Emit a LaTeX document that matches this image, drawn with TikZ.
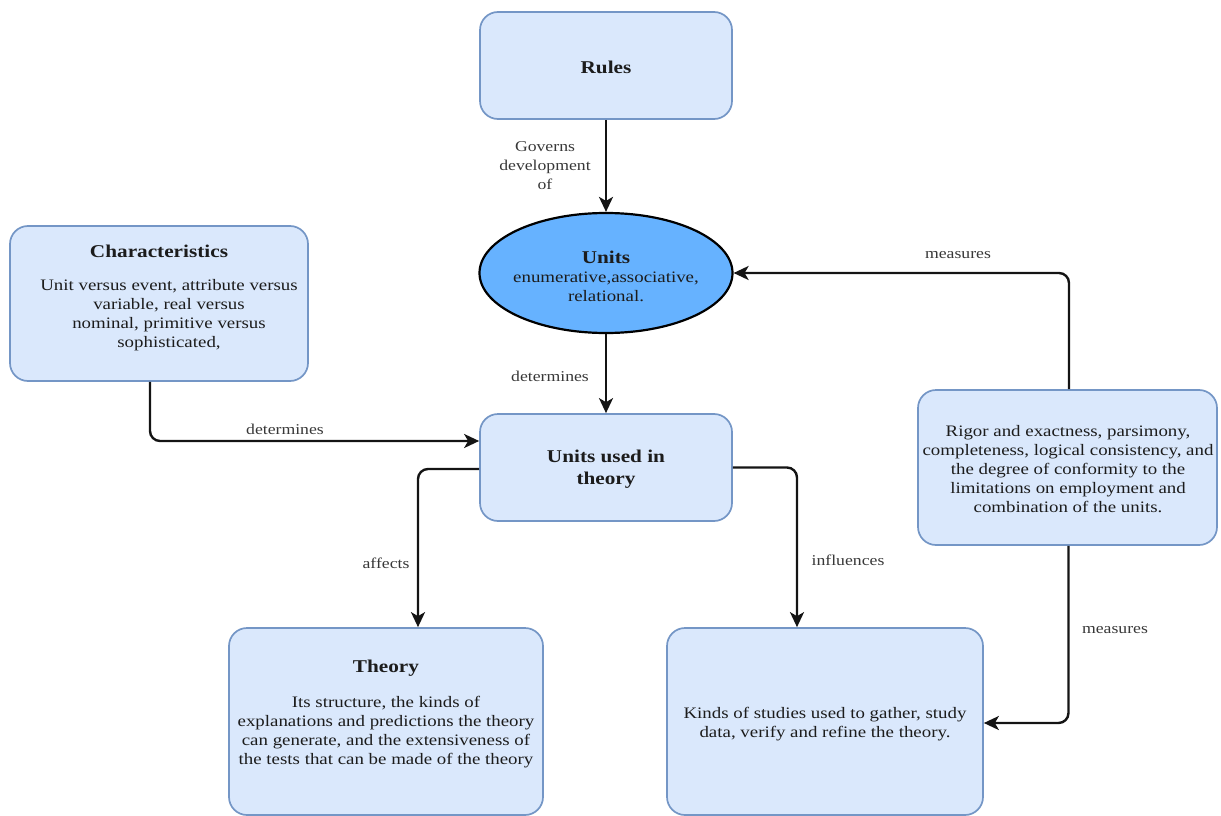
\documentclass[tikz,border=0pt]{standalone}
\usepackage{fontspec}
\setmainfont{Liberation Serif}[FakeStretch=1.18]
\usetikzlibrary{arrows.meta,shapes.geometric,calc}
\definecolor{boxfill}{HTML}{DAE8FC}
\definecolor{boxline}{HTML}{7496C6}
\definecolor{ellfill}{HTML}{66B2FF}
\definecolor{txt}{HTML}{1C1C1C}
\definecolor{lbltxt}{HTML}{383838}

\begin{document}
\begin{tikzpicture}[x=1pt,y=-1pt,
  box/.style={draw=boxline, fill=boxfill, line width=1.7pt, rounded corners=18pt, inner sep=0pt},
  ellbox/.style={ellipse, draw=black, fill=ellfill, line width=2.2pt, inner sep=0pt},
  titletext/.style={font=\fontsize{18}{22}\selectfont\bfseries, text=txt, align=center, inner sep=0pt},
  bodytext/.style={font=\fontsize{16}{19}\selectfont, text=txt, align=center, inner sep=0pt},
  lbl/.style={font=\fontsize{15}{19}\selectfont, text=lbltxt, align=center, inner sep=0pt},
  conn/.style={draw=black!92, line width=2.4pt, rounded corners=10pt,
    -{Stealth[length=15pt,width=14pt,inset=4pt]}},
]
\useasboundingbox (0,0) rectangle (1221,816);

% boxes
\node[box, minimum width=252pt, minimum height=107pt] (rules) at (606,65.5) {};
\node[ellbox, minimum width=253pt, minimum height=120pt] (ell) at (606,273) {};
\node[box, minimum width=298pt, minimum height=155pt] (ch) at (159,303.5) {};
\node[box, minimum width=252pt, minimum height=107pt] (uu) at (606,467.5) {};
\node[box, minimum width=299pt, minimum height=155pt] (rb) at (1067.5,467.5) {};
\node[box, minimum width=314pt, minimum height=187pt] (th) at (386,721.5) {};
\node[box, minimum width=316pt, minimum height=187pt] (kd) at (825,721.5) {};

% texts
\node[titletext] (rulesT) at (606,67) {Rules};
\node[titletext] (ellT) at (606,257) {Units};
\node[bodytext] (ellB) at (606,287) {enumerative,associative,\\relational.};
\node[titletext] (chT) at (159,251) {Characteristics};
\node[bodytext] (chB) at (169,315) {Unit versus event, attribute versus\\variable, real versus\\nominal, primitive versus\\sophisticated,};
\node[titletext] (uuT) at (606,469) {Units used in\\theory};
\node[bodytext] (rbB) at (1068,469.5) {Rigor and exactness, parsimony,\\completeness, logical consistency, and\\the degree of conformity to the\\limitations on employment and\\combination of the units.};
\node[titletext] (thT) at (386,668) {Theory};
\node[bodytext] (thB) at (386,732) {Its structure, the kinds of\\explanations and predictions the theory\\can generate, and the extensiveness of\\the tests that can be made of the theory};
\node[bodytext] (kdB) at (825,724.5) {Kinds of studies used to gather, study\\data, verify and refine the theory.};

% connector labels
\node[lbl] (l1) at (545,166) {Governs\\development\\of};
\node[lbl] (l2) at (550,376) {determines};
\node[lbl] (l3) at (285,429) {determines};
\node[lbl] (l4) at (386,563) {affects};
\node[lbl] (l5) at (848,560) {influences};
\node[lbl] (l6) at (958,255) {measures};
\node[lbl] (l7) at (1115,630) {measures};

% connectors
\draw[conn] (rules) -- (ell);
\draw[conn] (ell) -- (uu);
\draw[conn] ($(ch.south)+(-9,0)$) |- ($(uu.west)+(0,-26.5)$);
\draw[conn] ($(uu.west)+(0,1.5)$) -| ($(th.north)+(32,0)$);
\draw[conn] (uu.east) -| ($(kd.north)+(-28,0)$);
\draw[conn] ($(rb.north)+(1.5,0)$) |- (ell.east);
\draw[conn] ($(rb.south)+(1,0)$) |- ($(kd.east)+(0,1.5)$);
\end{tikzpicture}
\end{document}
